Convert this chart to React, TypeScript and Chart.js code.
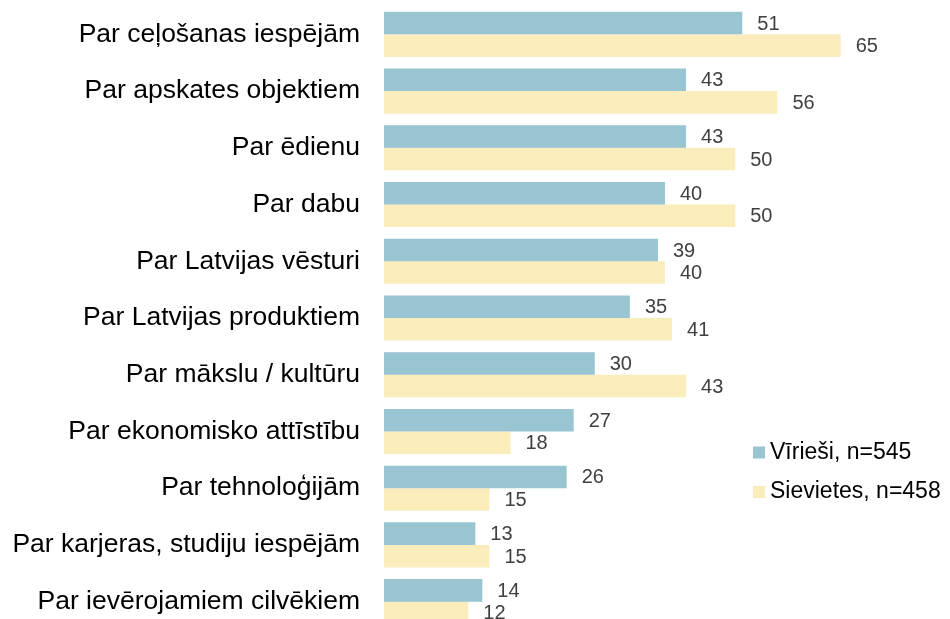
import React, { useEffect, useRef } from "react";
import { Chart, registerables } from "chart.js";

Chart.register(...registerables);

const categories = [
  "Par ceļošanas iespējām",
  "Par apskates objektiem",
  "Par ēdienu",
  "Par dabu",
  "Par Latvijas vēsturi",
  "Par Latvijas produktiem",
  "Par mākslu / kultūru",
  "Par ekonomisko attīstību",
  "Par tehnoloģijām",
  "Par karjeras, studiju iespējām",
  "Par ievērojamiem cilvēkiem",
];

const seriesNames = ["Vīrieši, n=545", "Sievietes, n=458"];
const men = [51, 43, 43, 40, 39, 35, 30, 27, 26, 13, 14];
const women = [65, 56, 50, 50, 40, 41, 43, 18, 15, 15, 12];

const FONT = "'Liberation Sans', Arial, Helvetica, sans-serif";
const BLUE = "#99C5D2";
const YELLOW = "#FAECBB";

const valueLabels = {
  id: "valueLabels",
  afterDatasetsDraw(chart: any) {
    const ctx = chart.ctx;
    ctx.save();
    ctx.font = `20px ${FONT}`;
    ctx.fillStyle = "#404040";
    ctx.textAlign = "left";
    ctx.textBaseline = "middle";
    chart.data.datasets.forEach((ds: any, di: number) => {
      const meta = chart.getDatasetMeta(di);
      meta.data.forEach((bar: any, i: number) => {
        ctx.fillText(String(ds.data[i]), bar.x + 15, bar.y + 1);
      });
    });
    ctx.restore();
  },
};

const customLegend = {
  id: "customLegend",
  afterDraw(chart: any) {
    const ctx = chart.ctx;
    ctx.save();
    ctx.font = `23px ${FONT}`;
    ctx.textAlign = "left";
    ctx.textBaseline = "middle";
    const x0 = 753;
    const ys = [452.5, 492];
    chart.data.datasets.forEach((ds: any, di: number) => {
      const y = ys[di];
      ctx.fillStyle = ds.backgroundColor;
      ctx.fillRect(x0, y - 6, 12, 12);
      ctx.fillStyle = "#000";
      ctx.fillText(ds.label, x0 + 17, y);
    });
    ctx.restore();
  },
};

export default function App() {
  const ref = useRef<HTMLCanvasElement | null>(null);

  useEffect(() => {
    if (!ref.current) return;
    const chart = new Chart(ref.current, {
      type: "bar",
      data: {
        labels: categories,
        datasets: [
          {
            label: seriesNames[0],
            data: men,
            backgroundColor: BLUE,
            barPercentage: 1,
            categoryPercentage: 0.795,
          },
          {
            label: seriesNames[1],
            data: women,
            backgroundColor: YELLOW,
            barPercentage: 1,
            categoryPercentage: 0.795,
          },
        ],
      },
      options: {
        indexAxis: "y",
        responsive: false,
        animation: false,
        layout: { padding: { top: 6, bottom: 0, left: 0, right: 4 } },
        plugins: {
          legend: { display: false },
          tooltip: { enabled: false },
        },
        scales: {
          x: {
            display: false,
            min: 0,
            max: 80,
          },
          y: {
            grid: { display: false, drawTicks: false },
            border: { display: false },
            ticks: {
              color: "#000",
              padding: 24,
              font: { family: FONT, size: 26.5 },
            },
            afterFit(scale: any) {
              scale.width = 384;
              scale.paddingTop = 0;
              scale.paddingBottom = 0;
            },
          },
        },
      },
      plugins: [valueLabels, customLegend],
    });
    return () => chart.destroy();
  }, []);

  return (
    <div
      style={{
        position: "fixed",
        top: 0,
        left: 0,
        width: 950,
        height: 619,
        overflow: "hidden",
        background: "#fff",
      }}
    >
      <canvas ref={ref} width={950} height={630} style={{ display: "block" }} />
    </div>
  );
}
